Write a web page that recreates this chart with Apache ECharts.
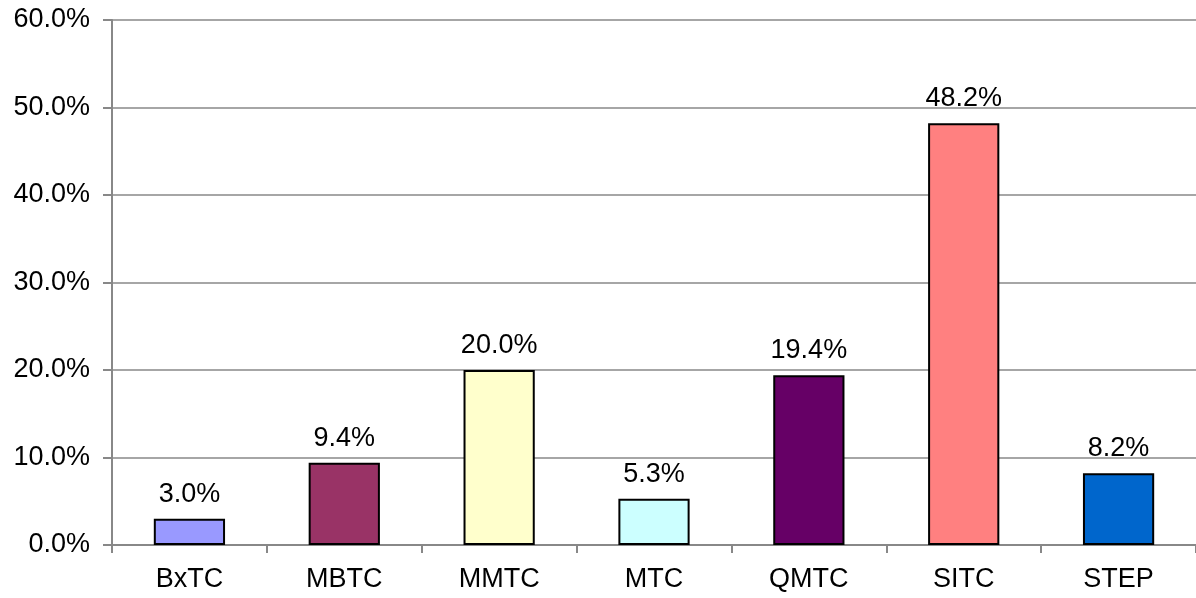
<!DOCTYPE html>
<html>
<head>
<meta charset="utf-8">
<script src="https://cdn.jsdelivr.net/npm/echarts@6/dist/echarts.min.js"></script>
<style>
  html, body { margin: 0; padding: 0; background: #fff; }
  #chart { width: 1196px; height: 598px; }
</style>
</head>
<body>
<div id="chart"></div>
<script>
var categories = ['BxTC', 'MBTC', 'MMTC', 'MTC', 'QMTC', 'SITC', 'STEP'];
var shares = [3.0, 9.4, 20.0, 5.3, 19.4, 48.2, 8.2];
var barColors = ['#9999FF', '#993366', '#FFFFCC', '#CCFFFF', '#660066', '#FF8080', '#0066CC'];

var chart = echarts.init(document.getElementById('chart'));
var font = '"Liberation Sans", Arial, sans-serif';

chart.setOption({
	animation: false,
	grid: { left: 112, right: 0, top: 20, bottom: 53, containLabel: false },
	xAxis: {
		type: 'category',
		data: categories,
		axisLine: { lineStyle: { color: '#888', width: 2 } },
		axisTick: { show: true, length: 8, alignWithLabel: false, lineStyle: { color: '#888', width: 2 } },
		axisLabel: { color: '#000', fontFamily: font, fontSize: 27, margin: 21 }
	},
	yAxis: {
		type: 'value',
		min: 0,
		max: 60,
		interval: 10,
		axisLine: { show: true, lineStyle: { color: '#888', width: 2 } },
		axisTick: { show: true, length: 9, lineStyle: { color: '#888', width: 2 } },
		axisLabel: {
			color: '#000', fontFamily: font, fontSize: 27, margin: 22,
			formatter: function (v) { return v.toFixed(1) + '%'; }
		},
		splitLine: { lineStyle: { color: '#888', width: 1.5 } }
	},
	series: [{
		type: 'bar',
		barWidth: '46%',
		data: shares.map(function (v, i) {
			return { value: v, itemStyle: { color: barColors[i] } };
		}),
		itemStyle: { borderColor: '#000', borderWidth: 2 },
		label: {
			show: true,
			position: 'top',
			distance: 11,
			color: '#000',
			fontFamily: font,
			fontSize: 27,
			formatter: function (p) { return p.value.toFixed(1) + '%'; }
		}
	}]
});
</script>
</body>
</html>
